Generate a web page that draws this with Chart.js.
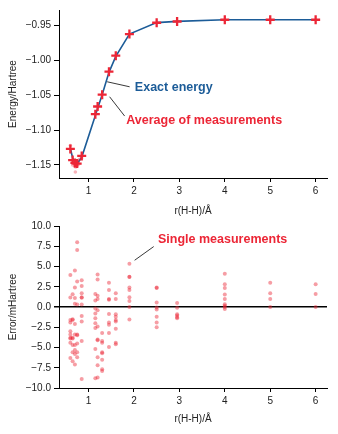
<!DOCTYPE html>
<html>
<head>
<meta charset="utf-8">
<script src="https://cdn.jsdelivr.net/npm/chart.js@4.4.1/dist/chart.umd.min.js"></script>
<style>
  html, body { margin: 0; padding: 0; background: #fff; }
  #wrap { position: relative; width: 338px; height: 434px; }
  .box { position: absolute; left: 0; width: 338px; height: 217px; }
</style>
</head>
<body>
<div id="wrap">
  <div class="box" style="top:0"><canvas id="energy"></canvas></div>
  <div class="box" style="top:217px"><canvas id="errors"></canvas></div>
</div>
<script>
// bond lengths (Å)
var rValues = [0.6, 0.65, 0.7, 0.75, 0.85, 1.15, 1.2, 1.3, 1.45, 1.6, 1.9, 2.5, 2.95, 4, 5, 6];

// exact energy and averaged measurements (Hartree)
var exactEnergy = [-1.126, -1.140, -1.146, -1.148, -1.139, -1.079, -1.069, -1.049, -1.017, -0.994, -0.962, -0.9455, -0.9437, -0.9414, -0.9414, -0.9414];
var avgEnergy   = [-1.127, -1.143, -1.147, -1.148, -1.137, -1.077, -1.066, -1.049, -1.016, -0.993, -0.962, -0.9457, -0.9439, -0.9414, -0.9414, -0.9414];

// faint single measurements visible in the upper panel
var singleEnergyR = [0.6, 0.65, 0.67, 0.7, 0.71, 0.72, 0.75, 0.78, 0.8, 0.85];
var singleEnergy  = [-1.122, -1.150, -1.146, -1.152, -1.160, -1.153, -1.151, -1.149, -1.142, -1.140];

// single measurement errors (mHartree), one list per bond length
var singleErrors = [
  [3.95, 1.17, -1.6, -1.9, -3.0, -3.4, -3.8, -3.9, -4.4, -6.3],
  [1.57, -1.5, -1.6, -3.8, -3.9, -4.7, -5.6, -6.7],
  [4.5, 2.4, 1.1, 0.4, -2.1, -3.4, -4.7, -5.3, -5.8, -7.1],
  [8.0, 7.05, 3.15, 0.3, -3.4, -3.5, -4.5, -5.6, -6.2],
  [3.3, 2.6, 1.7, 1.15, 1.2, 0.3, -1.1, -1.8, -4.2, -8.9],
  [1.6, 0.8, -0.2, -0.8, -1.4, -2.0, -2.6, -5.2, -8.8],
  [4.0, 3.4, 1.4, 1.0, -0.4, -2.4, -4.0, -4.1, -6.2, -7.2, -8.7],
  [-3.2, -4.2, -4.4, -5.6, -5.7, -6.5, -7.7, -7.9],
  [3.0, 2.1, 1.0, 0.9, -0.85, -1.9, -2.2, -3.2, -4.95],
  [1.7, 1.0, -0.9, -1.2, -1.6, -1.8, -2.7, -4.4, -4.6],
  [5.35, 3.75, 3.7, 2.4, 2.1, 1.2, 0.75, 0.0, -1.55],
  [2.35, 2.4, 0.55, -0.05, -0.3, -1.2, -1.9, -2.5],
  [0.5, -0.1, -0.9, -1.05, -1.25, -1.4],
  [4.1, 2.8, 2.35, 1.55, 1.0, 0.35, 0.15, 0.0, -0.25],
  [3.0, 1.7, 1.0, 0.0],
  [2.8, 1.6, 0.0]
];

// tick labels
var xTicks = [1, 2, 3, 4, 5, 6];
var energyTicks = [-0.95, -1.00, -1.05, -1.10, -1.15];
var errorTicks = [10, 7.5, 5, 2.5, 0, -2.5, -5, -7.5, -10];

var FONT = 'Liberation Sans, Arial, Helvetica, sans-serif';
var BLUE = '#1c5c98';
var RED = '#ec2636';

function fmt(v, d) {
  var s = Math.abs(v).toFixed(d);
  return v < 0 ? '\u2212' + s : s;
}

function pts(xs, ys) {
  return xs.map(function(x, i) { return { x: x, y: ys[i] }; });
}

var errorPoints = [];
rValues.forEach(function(r, i) {
  singleErrors[i].forEach(function(e) { errorPoints.push({ x: r, y: e }); });
});

// draws text labels with leader lines, positioned in data coordinates
var notesPlugin = {
  id: 'notes',
  afterDatasetsDraw: function(chart, args, opts) {
    var ctx = chart.ctx, xs = chart.scales.x, ys = chart.scales.y;
    ctx.save();
    (opts.items || []).forEach(function(n) {
      ctx.strokeStyle = '#222';
      ctx.lineWidth = 0.9;
      ctx.beginPath();
      ctx.moveTo(xs.getPixelForValue(n.line[0]), ys.getPixelForValue(n.line[1]));
      ctx.lineTo(xs.getPixelForValue(n.line[2]), ys.getPixelForValue(n.line[3]));
      ctx.stroke();
      ctx.fillStyle = n.color;
      ctx.font = 'bold 12.5px ' + FONT;
      ctx.textBaseline = 'middle';
      ctx.textAlign = 'left';
      ctx.fillText(n.text, xs.getPixelForValue(n.at[0]), ys.getPixelForValue(n.at[1]));
    });
    ctx.restore();
  }
};

function xScale(height, titlePad) {
  return {
    type: 'linear',
    min: 0.35,
    max: 6.25,
    afterBuildTicks: function(s) { s.ticks = xTicks.map(function(v) { return { value: v }; }); },
    afterFit: function(s) { s.height = height; },
    grid: { drawOnChartArea: false, drawTicks: true, tickLength: 4, color: '#000', tickColor: '#000' },
    border: { display: true, color: '#000', width: 1 },
    ticks: { color: '#222', font: { family: FONT, size: 10 }, padding: 3, maxRotation: 0 },
    title: { display: true, text: 'r(H-H)/\u00c5', color: '#222', font: { family: FONT, size: 10 }, padding: { top: 0, bottom: titlePad } }
  };
}

function yTitle(text) {
  return { display: true, text: text, color: '#222', font: { family: FONT, size: 10 }, padding: { top: 7, bottom: 0 } };
}

new Chart(document.getElementById('energy'), {
  type: 'scatter',
  data: {
    datasets: [
      {
        label: 'Exact energy',
        type: 'line',
        data: pts(rValues, exactEnergy),
        borderColor: BLUE,
        borderWidth: 1.6,
        pointRadius: 0,
        fill: false,
        order: 3
      },
      {
        label: 'Single',
        data: pts(singleEnergyR, singleEnergy),
        backgroundColor: 'rgba(236,38,54,0.35)',
        borderWidth: 0,
        pointRadius: 1.8,
        order: 2
      },
      {
        label: 'Average of measurements',
        data: pts(rValues, avgEnergy),
        pointStyle: 'cross',
        pointRadius: 4.5,
        borderColor: RED,
        borderWidth: 2.3,
        order: 1
      }
    ]
  },
  options: {
    animation: false,
    responsive: true,
    maintainAspectRatio: false,
    layout: { padding: { top: 10, right: 11, left: 0, bottom: 0 } },
    plugins: {
      legend: { display: false },
      tooltip: { enabled: false },
      notes: {
        items: [
          { text: 'Exact energy', color: BLUE, at: [2.02, -1.0385], line: [1.41, -1.0305, 1.905, -1.0377] },
          { text: 'Average of measurements', color: RED, at: [1.83, -1.0855], line: [1.464, -1.052, 1.795, -1.0797] }
        ]
      }
    },
    scales: {
      x: xScale(39, 0),
      y: {
        type: 'linear',
        min: -1.1687,
        max: -0.9274,
        afterBuildTicks: function(s) { s.ticks = energyTicks.map(function(v) { return { value: v }; }); },
        afterFit: function(s) { s.width = 59; },
        grid: { drawOnChartArea: false, drawTicks: true, tickLength: 5, color: '#000', tickColor: '#000' },
        border: { display: true, color: '#000', width: 1 },
        ticks: { color: '#222', font: { family: FONT, size: 10 }, padding: 3, callback: function(v) { return fmt(v, 2); } },
        title: yTitle('Energy/Hartree')
      }
    }
  },
  plugins: [notesPlugin]
});

new Chart(document.getElementById('errors'), {
  type: 'scatter',
  data: {
    datasets: [
      {
        label: 'Single measurements',
        data: errorPoints,
        backgroundColor: 'rgba(236,38,54,0.45)',
        borderWidth: 0,
        pointRadius: 2
      }
    ]
  },
  options: {
    animation: false,
    responsive: true,
    maintainAspectRatio: false,
    layout: { padding: { top: 6, right: 11, left: 0, bottom: 0 } },
    plugins: {
      legend: { display: false },
      tooltip: { enabled: false },
      notes: {
        items: [
          { text: 'Single measurements', color: RED, at: [2.53, 8.35], line: [2.015, 5.77, 2.435, 7.46] }
        ]
      }
    },
    scales: {
      x: xScale(46, 9),
      y: {
        type: 'linear',
        min: -10,
        max: 10,
        afterBuildTicks: function(s) { s.ticks = errorTicks.map(function(v) { return { value: v }; }); },
        afterFit: function(s) { s.width = 59; },
        grid: {
          drawOnChartArea: true,
          drawTicks: true,
          tickLength: 5,
          color: function(c) { return c.tick && c.tick.value === 0 ? '#000' : 'rgba(0,0,0,0)'; },
          lineWidth: function(c) { return c.tick && c.tick.value === 0 ? 1.5 : 1; },
          tickColor: '#000'
        },
        border: { display: true, color: '#000', width: 1 },
        ticks: { color: '#222', font: { family: FONT, size: 10 }, padding: 3, callback: function(v) { return fmt(v, 1); } },
        title: yTitle('Error/mHartree')
      }
    }
  },
  plugins: [notesPlugin]
});
</script>
</body>
</html>
